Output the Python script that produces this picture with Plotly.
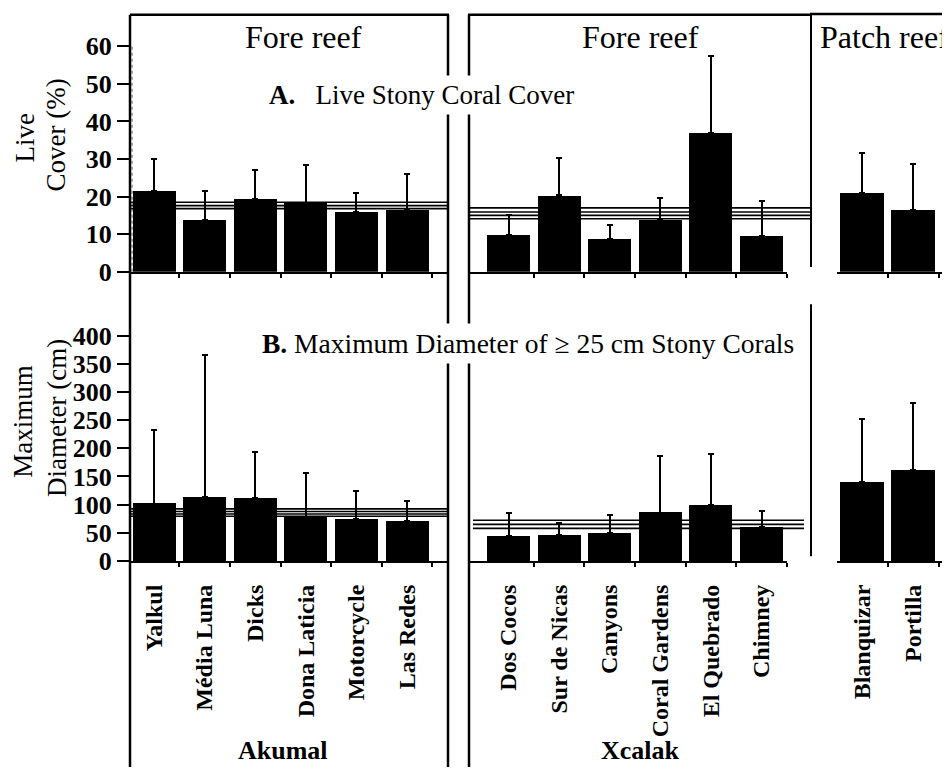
import plotly.graph_objects as go

# the page body adds an 8px margin, so the figure is drawn 8px smaller and shifted
OFF = 8
W, H = 950 - OFF, 782 - OFF

# ---- data ----
akumal_sites = ["Yalkul", "Média Luna", "Dicks", "Dona Laticia", "Motorcycle", "Las Redes"]
xcalak_sites = ["Dos Cocos", "Sur de Nicas", "Canyons", "Coral Gardens", "El Quebrado", "Chimney"]
patch_sites = ["Blanquizar", "Portilla"]

# A. live stony coral cover (%) - mean and upper end of error bar
cover_akumal = [21.4, 13.7, 19.4, 18.3, 16.0, 16.6]
cover_akumal_up = [29.9, 21.6, 27.0, 28.3, 20.9, 26.0]
cover_xcalak = [9.8, 20.3, 8.7, 13.9, 37.0, 9.6]
cover_xcalak_up = [15.0, 30.2, 12.4, 19.6, 57.4, 18.7]
cover_patch = [20.9, 16.5]
cover_patch_up = [31.6, 28.7]

# B. maximum diameter (cm)
diam_akumal = [102, 113, 111, 78, 75, 71]
diam_akumal_up = [233, 365, 194, 156, 124, 107]
diam_xcalak = [45, 46, 50, 86, 100, 60]
diam_xcalak_up = [86, 68, 82, 186, 190, 89]
diam_patch = [140, 161]
diam_patch_up = [252, 280]

# reference band lines (regional mean and limits)
cover_band_akumal = [18.5, 17.6, 16.8]
cover_band_xcalak = [17.0, 15.9, 15.0, 14.1]
diam_band_akumal = [92.5, 88, 83.5, 79.5]
diam_band_xcalak = [72.5, 65, 58]

cover_ticks = [0, 10, 20, 30, 40, 50, 60]
diam_ticks = [0, 50, 100, 150, 200, 250, 300, 350, 400]

SERIF = "Liberation Serif"


def px(x):
    return (x - OFF) / W


def py(y):
    return 1 - (y - OFF) / H


# pixel geometry of the three groups: first bar centre, spacing, axis start/end
groups = [
    (akumal_sites, 154, 50.6, 130, 447),
    (xcalak_sites, 508.5, 50.6, 470, 787),
    (patch_sites, 862, 51, 837, 942),
]
top_base, top_top, top_scale = 277, 15, 3.833
bot_base, bot_top, bot_scale = 572, 308, 0.575

top_vals = [(cover_akumal, cover_akumal_up), (cover_xcalak, cover_xcalak_up), (cover_patch, cover_patch_up)]
bot_vals = [(diam_akumal, diam_akumal_up), (diam_xcalak, diam_xcalak_up), (diam_patch, diam_patch_up)]

fig = go.Figure()
layout = {}

for row, (vals, base, top, scale) in enumerate([(top_vals, top_base, top_top, top_scale),
                                                (bot_vals, bot_base, bot_top, bot_scale)]):
    for g, (sites, c0, sp, a, b) in enumerate(groups):
        k = row * 3 + g + 1
        xs = "x" if k == 1 else f"x{k}"
        ys = "y" if k == 1 else f"y{k}"
        mean, up = vals[g]
        n = len(sites)
        fig.add_trace(go.Bar(
            x=list(range(n)), y=mean, xaxis=xs, yaxis=ys,
            width=0.85, marker=dict(color="black", line=dict(width=0)),
            error_y=dict(type="data", symmetric=False,
                         array=[u - m for u, m in zip(up, mean)],
                         arrayminus=[0] * n, color="black", thickness=2, width=3),
            showlegend=False, hoverinfo="skip",
        ))
        xa = dict(
            domain=[px(a), px(b)], range=[(a - c0) / sp, (b - c0) / sp],
            anchor=ys, showline=True, linecolor="black", linewidth=2,
            showgrid=False, zeroline=False, ticks="",
            tickvals=list(range(n)), ticktext=sites,
            showticklabels=(row == 1), tickangle=-90, ticklabelstandoff=12,
            tickfont=dict(family=SERIF, size=24, color="black", weight="bold"),
            minor=dict(tickvals=[i + 0.5 for i in range(n)], ticks="outside",
                       ticklen=4, tickwidth=2, tickcolor="black", showgrid=False),
        )
        ya = dict(
            domain=[py(base), py(top)], range=[0, (base - top) / scale],
            anchor=xs, showgrid=False, zeroline=False, showline=False,
        )
        if g == 0:
            ya.update(tickvals=cover_ticks if row == 0 else diam_ticks,
                      ticks="outside", ticklen=12, tickwidth=2, tickcolor="black",
                      tickfont=dict(family=SERIF, size=26, color="black", weight="bold"))
        else:
            ya.update(visible=False)
        layout["xaxis" if k == 1 else f"xaxis{k}"] = xa
        layout["yaxis" if k == 1 else f"yaxis{k}"] = ya

fig.update_layout(**layout)

shapes = []


def vline(x, y0, y1, w=2.5):
    shapes.append(dict(type="line", xref="paper", yref="paper", x0=px(x), x1=px(x),
                       y0=py(y0), y1=py(y1), line=dict(color="black", width=w)))


def hline(y, x0, x1, w=2.5):
    shapes.append(dict(type="line", xref="paper", yref="paper", x0=px(x0), x1=px(x1),
                       y0=py(y), y1=py(y), line=dict(color="black", width=w)))


# frames around the regions
vline(130, 15, 782)
hline(15, 130, 449)
vline(448, 15, 782)
vline(469, 15, 782)
hline(15, 468, 812)
hline(14, 810, 950)
vline(811, 14, 272, 2)
vline(811, 310, 567, 2)

# dotted guide next to the axis
shapes.append(dict(type="line", xref="paper", yref="paper", x0=px(132), x1=px(132),
                   y0=py(277), y1=py(46), line=dict(color="#555", width=1, dash="dot")))

# band lines behind the bars
for vals, yref, x0, x1 in [(cover_band_akumal, "y", 130, 448),
                           (cover_band_xcalak, "y2", 470, 811),
                           (diam_band_akumal, "y4", 130, 448),
                           (diam_band_xcalak, "y5", 473, 804)]:
    for v in vals:
        shapes.append(dict(type="line", xref="paper", yref=yref, x0=px(x0), x1=px(x1),
                           y0=v, y1=v, layer="below", line=dict(color="black", width=1.6)))

fig.update_layout(shapes=shapes)

ann = []


def text(x, y, s, size, bold=False, xanchor="center", angle=0, bg=None):
    d = dict(x=px(x), y=py(y), xref="paper", yref="paper", text=s, showarrow=False,
             xanchor=xanchor, yanchor="middle", textangle=angle,
             font=dict(family=SERIF, size=size, color="black", weight="bold" if bold else "normal"))
    if bg:
        d.update(bgcolor=bg, borderpad=4)
    ann.append(d)


text(303, 38, "Fore reef", 32)
text(640, 38, "Fore reef", 32)
text(818, 38, "Patch reef", 32, xanchor="left")
text(421, 97, "<b>A.</b>   Live Stony Coral Cover", 27, bg="white")
text(528, 350, "<b>B.</b> Maximum Diameter of ≥ 25 cm Stony Corals", 27.5, bg="white")
text(25, 141, "Live", 27, angle=-90)
text(56, 138, "Cover (%)", 27, angle=-90)
text(23, 430, "Maximum", 27, angle=-90)
text(57, 426, "Diameter (cm)", 27, angle=-90)
text(283, 765, "Akumal", 26, bold=True)
text(640, 765, "Xcalak", 26, bold=True)

fig.update_layout(
    annotations=ann,
    width=W, height=H,
    margin=dict(l=0, r=0, t=0, b=0),
    paper_bgcolor="white", plot_bgcolor="white",
    bargap=0,
)

fig.write_html("out.html")
